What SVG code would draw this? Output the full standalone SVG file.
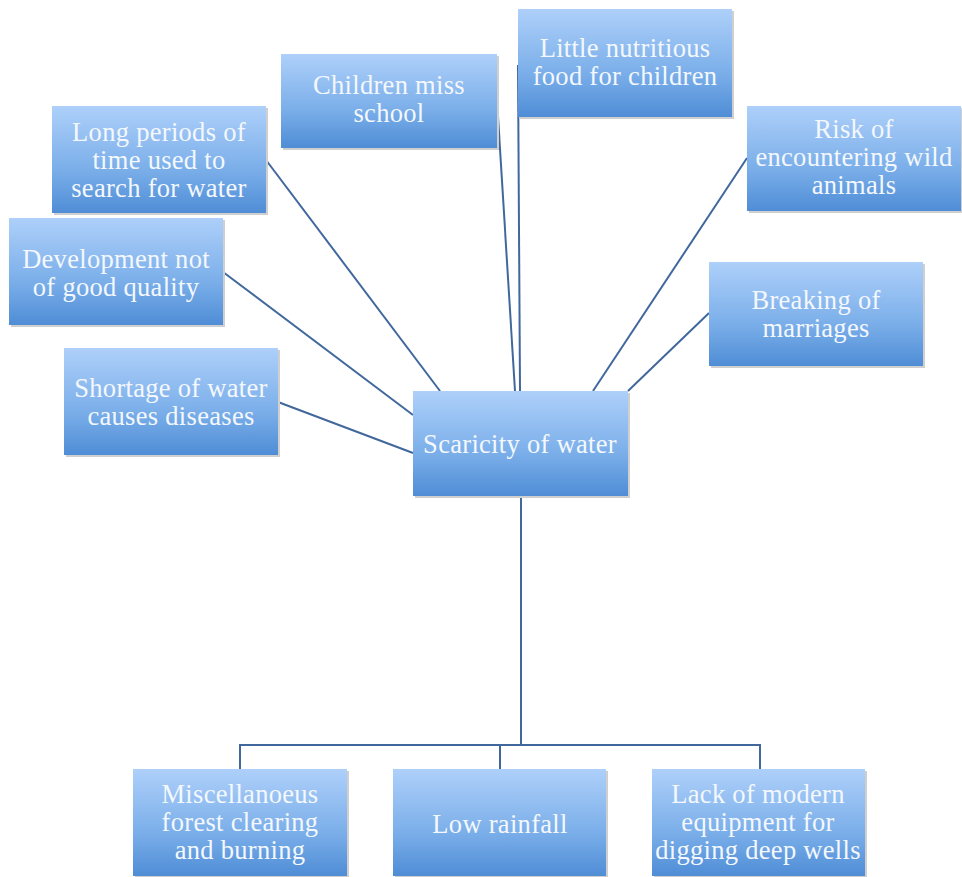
<svg xmlns="http://www.w3.org/2000/svg" width="962" height="877" viewBox="0 0 962 877">
<defs>
<linearGradient id="g" x1="0" y1="0" x2="0" y2="1">
<stop offset="0" stop-color="#aed0fa"/>
<stop offset="0.6" stop-color="#7aaee9"/>
<stop offset="1" stop-color="#4f8dd6"/>
</linearGradient>
</defs>
<style>
.box{fill:url(#g);}
.sh{fill:#cfcfcf;}
.t{font-family:"Liberation Serif","Times New Roman",serif;font-size:26.5px;letter-spacing:0.3px;fill:#f4f8fd;text-anchor:middle;}
.c{stroke:#41689c;stroke-width:2;fill:none;}
</style>
<rect width="962" height="877" fill="#ffffff"/>
<g id="connectors">
<line class="c" x1="266" y1="160" x2="440" y2="391"/>
<line class="c" x1="223" y1="272" x2="413" y2="415"/>
<line class="c" x1="278" y1="402" x2="413" y2="453"/>
<line class="c" x1="497" y1="100" x2="515" y2="391"/>
<line class="c" x1="518" y1="65" x2="520" y2="391"/>
<line class="c" x1="747" y1="158" x2="593" y2="391"/>
<line class="c" x1="709" y1="313" x2="628" y2="391"/>
<polyline class="c" points="521,496 521,745"/>
<polyline class="c" points="240,769 240,745 760,745 760,769"/>
<line class="c" x1="500" y1="745" x2="500" y2="769"/>
</g>
<g id="n-long"><rect class="sh" x="54" y="108" width="214" height="107"/><rect class="box" x="52" y="106" width="214" height="107"/><text class="t" x="159" y="141">Long periods of</text><text class="t" x="159" y="169">time used to</text><text class="t" x="159" y="197">search for water</text></g>
<g id="n-dev"><rect class="sh" x="11" y="220" width="214" height="107"/><rect class="box" x="9" y="218" width="214" height="107"/><text class="t" x="116" y="268">Development not</text><text class="t" x="116" y="296">of good quality</text></g>
<g id="n-short"><rect class="sh" x="66" y="350" width="214" height="107"/><rect class="box" x="64" y="348" width="214" height="107"/><text class="t" x="171" y="397">Shortage of water</text><text class="t" x="171" y="425">causes diseases</text></g>
<g id="n-school"><rect class="sh" x="283" y="56" width="216" height="94"/><rect class="box" x="281" y="54" width="216" height="94"/><text class="t" x="389" y="94">Children miss</text><text class="t" x="389" y="122">school</text></g>
<g id="n-food"><rect class="sh" x="520" y="11" width="214" height="108"/><rect class="box" x="518" y="9" width="214" height="108"/><text class="t" x="625" y="57">Little nutritious</text><text class="t" x="625" y="85">food for children</text></g>
<g id="n-risk"><rect class="sh" x="749" y="108" width="213" height="105"/><rect class="box" x="747" y="106" width="214" height="105"/><text class="t" x="854" y="138">Risk of</text><text class="t" x="854" y="166">encountering wild</text><text class="t" x="854" y="194">animals</text></g>
<g id="n-break"><rect class="sh" x="711" y="264" width="214" height="104"/><rect class="box" x="709" y="262" width="214" height="104"/><text class="t" x="816" y="309">Breaking of</text><text class="t" x="816" y="337">marriages</text></g>
<g id="n-center"><rect class="sh" x="415" y="393" width="215" height="105"/><rect class="box" x="413" y="391" width="215" height="105"/><text class="t" x="520" y="453">Scaricity of water</text></g>
<g id="n-misc"><rect class="sh" x="135" y="771" width="214" height="106"/><rect class="box" x="133" y="769" width="214" height="107"/><text class="t" x="240" y="803">Miscellanoeus</text><text class="t" x="240" y="831">forest clearing</text><text class="t" x="240" y="859">and burning</text></g>
<g id="n-rain"><rect class="sh" x="395" y="771" width="213" height="106"/><rect class="box" x="393" y="769" width="213" height="107"/><text class="t" x="500" y="833">Low rainfall</text></g>
<g id="n-lack"><rect class="sh" x="654" y="771" width="213" height="106"/><rect class="box" x="652" y="769" width="213" height="107"/><text class="t" x="758" y="803">Lack of modern</text><text class="t" x="758" y="831">equipment for</text><text class="t" x="758" y="859">digging deep wells</text></g>
</svg>
